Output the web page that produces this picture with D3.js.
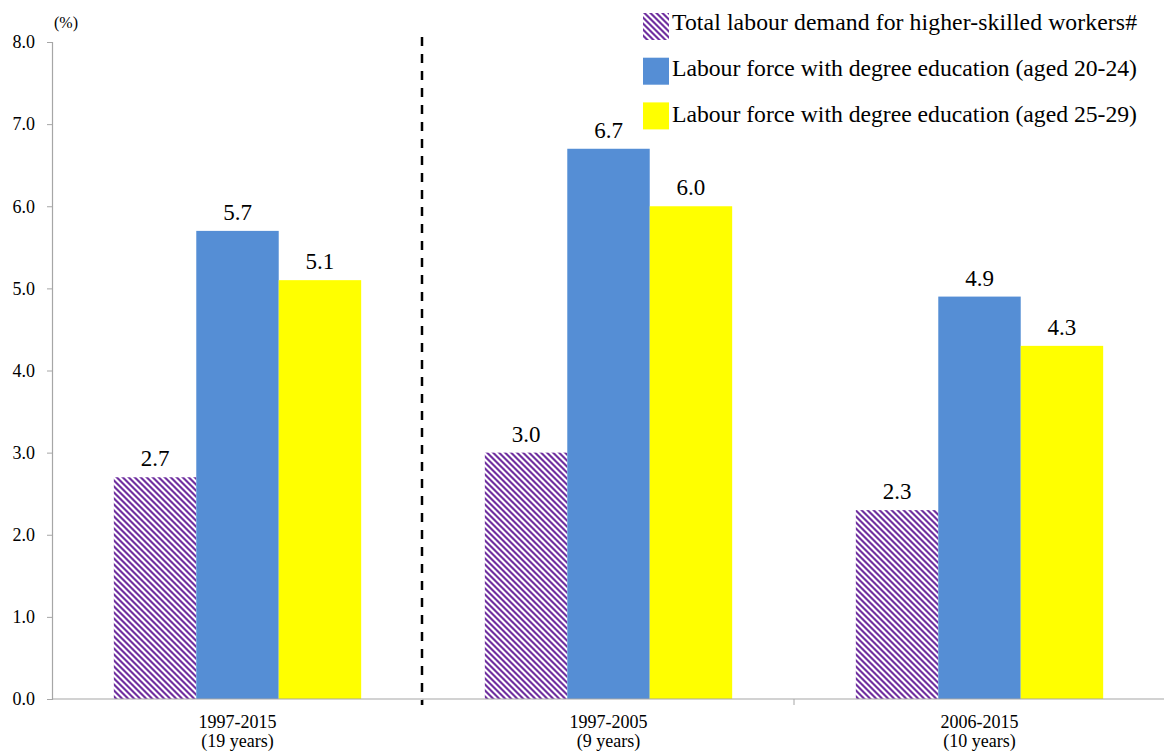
<!DOCTYPE html>
<html>
<head>
<meta charset="utf-8">
<script src="https://cdn.jsdelivr.net/npm/d3@7"></script>
<style>
  body { margin: 0; background: #fff; }
  svg text { font-family: "Liberation Serif", "Times New Roman", serif; fill: #000; }
</style>
</head>
<body>
<svg width="1164" height="752"></svg>
<script>
// data
var periods = ["1997-2015", "1997-2005", "2006-2015"];
var periodNotes = ["(19 years)", "(9 years)", "(10 years)"];
var seriesNames = [
	"Total labour demand for higher-skilled workers#",
	"Labour force with degree education (aged 20-24)",
	"Labour force with degree education (aged 25-29)"
];
var demand = [2.7, 3.0, 2.3];
var aged2024 = [5.7, 6.7, 4.9];
var aged2529 = [5.1, 6.0, 4.3];
var yTicks = [0, 1, 2, 3, 4, 5, 6, 7, 8];

var seriesValues = [demand, aged2024, aged2529];
var seriesKeys = ["demand", "a2024", "a2529"];
var fills = ["url(#hatch)", "#558ed5", "#ffff00"];

var svg = d3.select("svg"),
	width = +svg.attr("width"),
	height = +svg.attr("height");

var margin = { left: 52, right: -1, top: 42, bottom: 53 };

// hatch pattern for the demand series (stripes running top-left to bottom-right)
var defs = svg.append("defs");
var pat = defs.append("pattern")
	.attr("id", "hatch")
	.attr("patternUnits", "userSpaceOnUse")
	.attr("width", 6)
	.attr("height", 6);
pat.append("rect").attr("width", 6).attr("height", 6).attr("fill", "#fff");
pat.append("path")
	.attr("d", "M0,0 L3,0 L6,3 L6,6 Z M0,3 L3,6 L0,6 Z")
	.attr("fill", "#7030a0");

var x0 = d3.scaleBand()
	.domain(periods)
	.range([margin.left, width - margin.right])
	.paddingInner(0)
	.paddingOuter(0);

var x1 = d3.scaleBand()
	.domain(seriesKeys)
	.range([0, x0.bandwidth()])
	.paddingOuter(0.75)
	.paddingInner(0);

var y = d3.scaleLinear()
	.domain([0, 8])
	.range([height - margin.bottom, margin.top]);

// y axis
var yAxis = svg.append("g")
	.attr("transform", "translate(" + margin.left + ",0)")
	.call(d3.axisLeft(y).tickValues(yTicks).tickFormat(d3.format(".1f")).tickSize(5).tickPadding(12));
yAxis.attr("font-family", null);
yAxis.select(".domain").attr("stroke", "#a6a6a6").attr("stroke-width", 1.2);
yAxis.selectAll(".tick line").attr("stroke", "#a6a6a6");
yAxis.selectAll(".tick text")
	.style("font-size", "18px");

svg.append("text")
	.attr("x", 54)
	.attr("y", 28)
	.style("font-size", "16px")
	.text("(%)");

// bars
var groups = svg.append("g")
	.selectAll("g")
	.data(periods)
	.enter()
	.append("g")
	.attr("transform", function (d) { return "translate(" + x0(d) + ",0)"; });

groups.selectAll("rect")
	.data(function (d, i) {
		return seriesKeys.map(function (k, j) { return { key: k, value: seriesValues[j][i], j: j }; });
	})
	.enter()
	.append("rect")
	.attr("x", function (d) { return x1(d.key); })
	.attr("y", function (d) { return y(d.value); })
	.attr("width", x1.bandwidth())
	.attr("height", function (d) { return y(0) - y(d.value); })
	.attr("fill", function (d) { return fills[d.j]; });

groups.selectAll("text.val")
	.data(function (d, i) {
		return seriesKeys.map(function (k, j) { return { key: k, value: seriesValues[j][i] }; });
	})
	.enter()
	.append("text")
	.attr("class", "val")
	.attr("x", function (d) { return x1(d.key) + x1.bandwidth() / 2; })
	.attr("y", function (d) { return y(d.value) - 11; })
	.attr("text-anchor", "middle")
	.style("font-size", "23px")
	.text(function (d) { return d3.format(".1f")(d.value); });

// x axis
var xAxis = svg.append("g")
	.attr("transform", "translate(0," + y(0) + ")");
xAxis.append("line")
	.attr("x1", margin.left)
	.attr("x2", width)
	.attr("stroke", "#a6a6a6")
	.attr("stroke-width", 1.2);
xAxis.selectAll("line.tick")
	.data(periods.slice(1))
	.enter()
	.append("line")
	.attr("class", "tick")
	.attr("x1", function (d) { return x0(d); })
	.attr("x2", function (d) { return x0(d); })
	.attr("y1", 0)
	.attr("y2", 6)
	.attr("stroke", "#a6a6a6");

var catLabels = xAxis.selectAll("text.cat")
	.data(periods)
	.enter()
	.append("text")
	.attr("class", "cat")
	.attr("text-anchor", "middle")
	.attr("x", function (d) { return x0(d) + x0.bandwidth() / 2; })
	.style("font-size", "18px");
catLabels.append("tspan")
	.attr("x", function (d) { return x0(d) + x0.bandwidth() / 2; })
	.attr("y", 29)
	.text(function (d) { return d; });
catLabels.append("tspan")
	.attr("x", function (d) { return x0(d) + x0.bandwidth() / 2; })
	.attr("y", 48)
	.text(function (d, i) { return periodNotes[i]; });

// dashed divider between whole period and sub-periods
svg.append("line")
	.attr("x1", x0(periods[1]) - 1)
	.attr("x2", x0(periods[1]) - 1)
	.attr("y1", 37)
	.attr("y2", y(0) + 6)
	.attr("stroke", "#000")
	.attr("stroke-width", 2.5)
	.attr("stroke-dasharray", "9,8");

// legend
var legend = svg.append("g")
	.selectAll("g")
	.data(seriesNames)
	.enter()
	.append("g");
legend.append("rect")
	.attr("x", 643)
	.attr("y", function (d, i) { return 13 + i * 44.7; })
	.attr("width", 26)
	.attr("height", 27)
	.attr("fill", function (d, i) { return fills[i]; });
legend.append("text")
	.attr("x", 672)
	.attr("y", function (d, i) { return 30 + i * 46; })
	.attr("textLength", 465)
	.attr("lengthAdjust", "spacing")
	.style("font-size", "23.7px")
	.text(function (d) { return d; });
</script>
</body>
</html>
